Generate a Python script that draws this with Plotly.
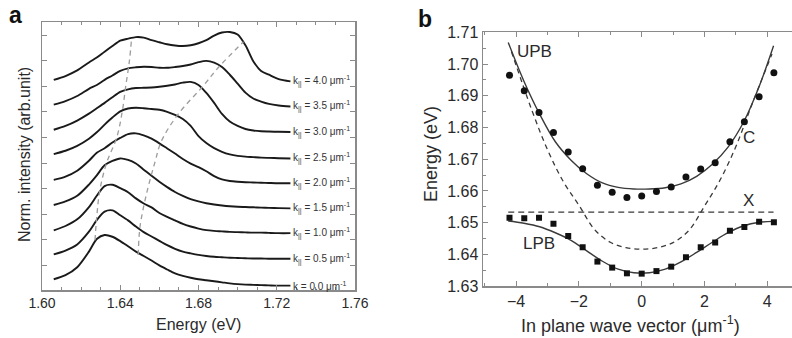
import plotly.graph_objects as go

# ---------------- Panel a data ----------------
energy_grid = [1.606, 1.612, 1.618, 1.624, 1.628, 1.632, 1.636, 1.640, 1.644, 1.648,
               1.652, 1.656, 1.660, 1.664, 1.668, 1.672, 1.676, 1.680, 1.684, 1.688,
               1.692, 1.696, 1.700, 1.704, 1.708, 1.712, 1.716, 1.721, 1.727]

spec_k00 = [0.46, 0.62, 0.93, 1.54, 2.03, 2.19, 2.12, 1.95, 1.75, 1.54, 1.37, 1.19, 1.00, 0.84, 0.69,
            0.59, 0.52, 0.46, 0.42, 0.38, 0.34, 0.30, 0.27, 0.25, 0.24, 0.23, 0.22, 0.21, 0.21]
spec_k05 = [0.43, 0.58, 0.82, 1.32, 1.77, 2.10, 2.15, 1.96, 1.76, 1.52, 1.30, 1.13, 0.96, 0.79, 0.65,
            0.54, 0.47, 0.41, 0.37, 0.34, 0.32, 0.30, 0.29, 0.28, 0.27, 0.27, 0.26, 0.26, 0.26]
spec_k10 = [0.37, 0.54, 0.80, 1.28, 1.72, 2.10, 2.15, 2.02, 1.86, 1.62, 1.42, 1.27, 1.05, 0.90, 0.76,
            0.62, 0.52, 0.44, 0.38, 0.35, 0.33, 0.31, 0.30, 0.29, 0.28, 0.28, 0.27, 0.26, 0.26]
spec_k15 = [0.36, 0.50, 0.72, 1.16, 1.52, 1.91, 2.08, 2.18, 2.12, 1.98, 1.74, 1.50, 1.27, 1.06, 0.87,
            0.72, 0.59, 0.50, 0.43, 0.38, 0.34, 0.31, 0.29, 0.28, 0.27, 0.26, 0.25, 0.24, 0.23]
spec_k20 = [0.34, 0.47, 0.70, 1.09, 1.40, 1.58, 1.80, 1.98, 2.13, 2.16, 2.08, 1.95, 1.77, 1.57, 1.37,
            1.16, 0.98, 0.84, 0.68, 0.49, 0.36, 0.30, 0.27, 0.25, 0.24, 0.23, 0.22, 0.21, 0.21]
spec_k25 = [0.35, 0.48, 0.67, 0.95, 1.20, 1.50, 1.78, 2.02, 2.13, 2.16, 2.14, 2.11, 2.08, 2.00, 1.88,
            1.72, 1.45, 1.05, 0.78, 0.58, 0.44, 0.34, 0.28, 0.25, 0.23, 0.21, 0.20, 0.19, 0.18]
spec_k30 = [0.30, 0.45, 0.66, 0.93, 1.14, 1.35, 1.57, 1.78, 1.88, 1.93, 1.94, 1.95, 1.98, 2.02, 2.07,
            2.14, 2.17, 2.05, 1.74, 1.35, 0.92, 0.62, 0.45, 0.33, 0.27, 0.24, 0.23, 0.22, 0.21]
spec_k35 = [0.28, 0.42, 0.62, 0.90, 1.05, 1.25, 1.42, 1.60, 1.70, 1.74, 1.76, 1.75, 1.72, 1.72, 1.75,
            1.79, 1.85, 1.94, 1.99, 1.92, 1.75, 1.45, 1.10, 0.75, 0.52, 0.40, 0.31, 0.25, 0.21]
spec_k40 = [0.25, 0.40, 0.62, 0.93, 1.12, 1.35, 1.57, 1.78, 1.86, 1.92, 1.90, 1.80, 1.72, 1.64, 1.59,
            1.57, 1.60, 1.68, 1.80, 1.98, 2.10, 2.12, 2.02, 1.60, 0.98, 0.60, 0.45, 0.28, 0.19]

spectra = [spec_k00, spec_k05, spec_k10, spec_k15, spec_k20, spec_k25, spec_k30, spec_k35, spec_k40]
offsets = [0, 1, 2, 3, 4, 5, 6, 7, 8]
k_labels = ["k = 0.0 \u03bcm<sup>-1</sup>",
            "k<sub>||</sub> = 0.5 \u03bcm<sup>-1</sup>",
            "k<sub>||</sub> = 1.0 \u03bcm<sup>-1</sup>",
            "k<sub>||</sub> = 1.5 \u03bcm<sup>-1</sup>",
            "k<sub>||</sub> = 2.0 \u03bcm<sup>-1</sup>",
            "k<sub>||</sub> = 2.5 \u03bcm<sup>-1</sup>",
            "k<sub>||</sub> = 3.0 \u03bcm<sup>-1</sup>",
            "k<sub>||</sub> = 3.5 \u03bcm<sup>-1</sup>",
            "k<sub>||</sub> = 4.0 \u03bcm<sup>-1</sup>"]

guide_lpb_E = [1.6271, 1.6281, 1.6296, 1.6330, 1.6382, 1.6410, 1.6428, 1.6447, 1.6458]
guide_lpb_I = [1.99, 3.0, 3.95, 5.0, 6.0, 7.0, 8.0, 9.0, 9.88]
guide_upb_E = [1.6492, 1.6501, 1.6535, 1.6578, 1.6610, 1.6695, 1.6820, 1.6905, 1.7030]
guide_upb_I = [1.41, 2.51, 3.82, 5.05, 5.85, 6.90, 7.98, 8.76, 9.74]

# ---------------- Panel b data ----------------
k_points = [-4.21, -3.74, -3.27, -2.81, -2.34, -1.88, -1.41, -0.94, -0.47, 0.0,
            0.47, 0.94, 1.41, 1.88, 2.34, 2.81, 3.27, 3.74, 4.21]
upb_points = [1.6965, 1.6916, 1.6847, 1.6784, 1.6723, 1.6670, 1.6618, 1.6596, 1.6579, 1.6584,
              1.6598, 1.6612, 1.6644, 1.6669, 1.6689, 1.6755, 1.6818, 1.6897, 1.6973]
lpb_points = [1.6515, 1.6514, 1.6515, 1.6496, 1.6458, 1.6422, 1.6377, 1.6358, 1.6340, 1.6339,
              1.6347, 1.6361, 1.6391, 1.6422, 1.6437, 1.6474, 1.6486, 1.6503, 1.6501]

k_fit = [-4.25, -3.75, -3.25, -2.75, -2.25, -1.75, -1.25, -0.75, -0.25, 0.25,
         0.75, 1.25, 1.75, 2.25, 2.75, 3.25, 3.75, 4.2]
upb_fit = [1.7068, 1.6946, 1.6842, 1.6755, 1.6697, 1.6654, 1.6625, 1.6611, 1.6606, 1.6606,
           1.6610, 1.6622, 1.6646, 1.6684, 1.6738, 1.6818, 1.6932, 1.7058]
lpb_fit = [1.6505, 1.6498, 1.6487, 1.6468, 1.6444, 1.6411, 1.6378, 1.6353, 1.6342, 1.6342,
           1.6353, 1.6376, 1.6406, 1.6438, 1.6468, 1.6490, 1.6501, 1.6504]

k_cav = [-4.15, -3.5, -3.0, -2.5, -2.0, -1.5, -1.0, -0.5, 0.0, 0.5, 1.0, 1.5, 2.0, 2.5, 3.0, 3.5, 4.15]
cavity = [1.7040, 1.6855, 1.6730, 1.6630, 1.6555, 1.6478, 1.6438, 1.6421, 1.6416, 1.6421,
          1.6437, 1.6475, 1.6552, 1.6635, 1.6740, 1.6870, 1.7032]
k_exc = [-4.25, 4.2]
exciton = [1.6533, 1.6533]

W, H = 792, 338
def px(x):
    return x / W
def py(y):
    return 1 - y / H

ink = "#1a1a1a"
axcol = "#8a8a8a"
txt = "#2a2a2a"
FONT = "Liberation Sans, Arial, sans-serif"

fig = go.Figure()

for vals, off in zip(spectra, offsets):
    fig.add_trace(go.Scatter(x=energy_grid, y=[v + off for v in vals], mode="lines",
                             line=dict(color=ink, width=1.9, shape="spline", smoothing=0.8),
                             xaxis="x", yaxis="y", hoverinfo="skip"))

for ge, gi in [(guide_lpb_E, guide_lpb_I), (guide_upb_E, guide_upb_I)]:
    fig.add_trace(go.Scatter(x=ge, y=gi, mode="lines",
                             line=dict(color="#9c9c9c", width=1.3, dash="5px,4px", shape="spline"),
                             xaxis="x", yaxis="y", hoverinfo="skip"))

# panel b
fig.add_trace(go.Scatter(x=k_exc, y=exciton, mode="lines",
                         line=dict(color="#3a3a3a", width=1.3, dash="6px,4px"),
                         xaxis="x2", yaxis="y2"))
fig.add_trace(go.Scatter(x=k_cav, y=cavity, mode="lines",
                         line=dict(color="#3a3a3a", width=1.3, dash="5px,4px", shape="spline"),
                         xaxis="x2", yaxis="y2"))
fig.add_trace(go.Scatter(x=k_fit, y=upb_fit, mode="lines",
                         line=dict(color="#3a3a3a", width=1.4, shape="spline"),
                         xaxis="x2", yaxis="y2"))
fig.add_trace(go.Scatter(x=k_fit, y=lpb_fit, mode="lines",
                         line=dict(color="#3a3a3a", width=1.4, shape="spline"),
                         xaxis="x2", yaxis="y2"))
fig.add_trace(go.Scatter(x=k_points, y=upb_points, mode="markers",
                         marker=dict(symbol="circle", size=7, color="#111111"),
                         xaxis="x2", yaxis="y2"))
fig.add_trace(go.Scatter(x=k_points, y=lpb_points, mode="markers",
                         marker=dict(symbol="square", size=6, color="#111111"),
                         xaxis="x2", yaxis="y2"))

def ann(x, y, text, size, xref="paper", yref="paper", angle=0, color=txt, **kw):
    d = dict(x=x, y=y, xref=xref, yref=yref, text=text, showarrow=False,
             xanchor="center", yanchor="middle", textangle=angle,
             font=dict(size=size, color=color, family=FONT))
    d.update(kw)
    return d

annotations = []
for vals, off, lab in zip(spectra, offsets, k_labels):
    annotations.append(ann(energy_grid[-1], vals[-1] + off, lab, 10, xref="x", yref="y",
                           color="#333333", xanchor="left", xshift=1))

annotations += [
    ann(px(15), py(15), "<b>a</b>", 23, color="#111111"),
    ann(px(425), py(19), "<b>b</b>", 23, color="#111111"),
    ann(px(198), py(324), "Energy (eV)", 16),
    ann(px(24), py(155), "Norm. intensity (arb.unit)", 16, angle=-90),
    ann(px(630), py(324), "In plane wave vector (\u03bcm<sup>-1</sup>)", 18),
    ann(px(431), py(154), "Energy (eV)", 18, angle=-90),
    ann(-3.40, 1.7039, "UPB", 17, xref="x2", yref="y2"),
    ann(-3.28, 1.6435, "LPB", 17, xref="x2", yref="y2"),
    ann(3.41, 1.6767, "C", 17, xref="x2", yref="y2"),
    ann(3.41, 1.6571, "X", 17, xref="x2", yref="y2"),
]

common = dict(showgrid=False, zeroline=False, showline=True, linecolor=axcol, linewidth=1.5,
              ticks="inside", tickcolor=axcol, tickwidth=1, ticklen=5, automargin=False)

fig.update_layout(
    template="none",
    width=W, height=H, margin=dict(l=0, r=0, t=0, b=0, pad=0, autoexpand=False),
    paper_bgcolor="white", plot_bgcolor="white", showlegend=False,
    font=dict(family=FONT, color=txt),
    annotations=annotations,
    xaxis=dict(domain=[px(42), px(355)], range=[1.60, 1.76], dtick=0.04, tick0=1.60,
               tickformat=".2f", mirror="ticks", anchor="y",
               minor=dict(dtick=0.01, tick0=1.60, ticks="inside", ticklen=3, tickcolor=axcol),
               tickfont=dict(size=14, color=txt, family=FONT), **common),
    yaxis=dict(domain=[py(290), py(22)], range=[0.04, 10.51], dtick=1, tick0=0,
               showticklabels=False, mirror="ticks", anchor="x", **common),
    xaxis2=dict(domain=[px(483), 1.0], range=[-5.054, 4.787], dtick=2, tick0=0,
                mirror="ticks", anchor="y2",
                minor=dict(dtick=1, tick0=0, ticks="inside", ticklen=3, tickcolor=axcol),
                tickfont=dict(size=16, color=txt, family=FONT), **common),
    yaxis2=dict(domain=[py(286), py(32.4)], range=[1.63, 1.71], dtick=0.01, tick0=1.63,
                tickformat=".2f", mirror=False, anchor="x2",
                minor=dict(dtick=0.005, tick0=1.63, ticks="inside", ticklen=3, tickcolor=axcol),
                tickfont=dict(size=16, color=txt, family=FONT), **common),
)

fig.write_html("out.html", config={"displayModeBar": False, "staticPlot": True},
               post_script="document.body.style.margin='0';")
